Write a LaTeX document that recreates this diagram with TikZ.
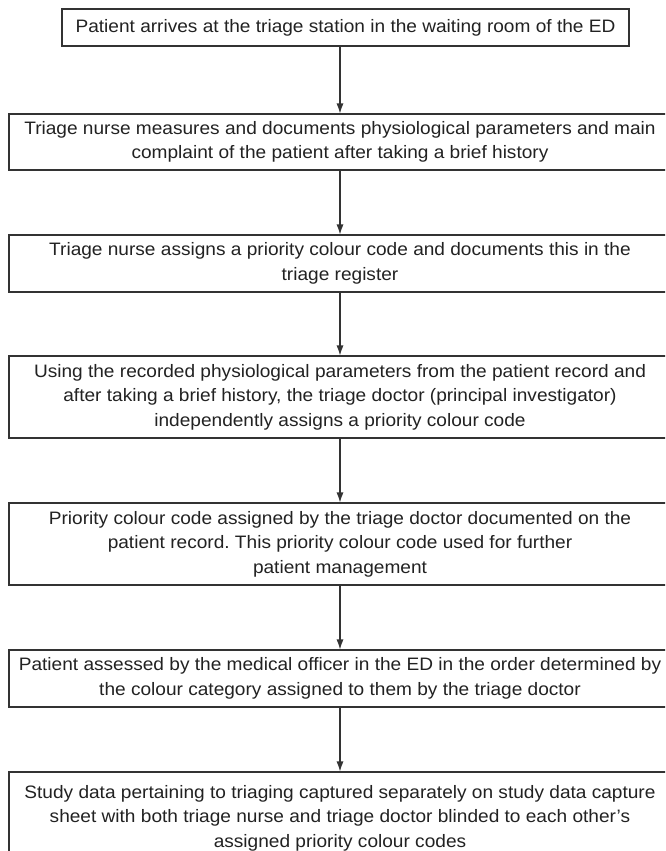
\documentclass[tikz,border=0pt]{standalone}
\usepackage{fontspec}
\setmainfont{Liberation Sans}[FakeStretch=1.06]
\usetikzlibrary{arrows.meta}
\definecolor{linec}{HTML}{333333}
\definecolor{textc}{HTML}{222222}
\frenchspacing
\begin{document}
\begin{tikzpicture}[x=1pt,y=-1pt,
  box/.style={draw=linec,line width=1.1pt,fill=white,align=center,inner sep=0pt,
    text=textc,font=\fontsize{18}{24.5}\selectfont},
  arr/.style={draw=linec,line width=1.1pt,-{Latex[length=10pt,width=7pt]}}]
\clip (0,0) rectangle (665,851);
\fill[white] (0,0) rectangle (665,851);
\coordinate (ax) at (340,0);
\node[box,minimum width=567pt,minimum height=37pt] (b1) at (345.5,27.5)
  {Patient arrives at the triage station in the waiting room of the ED};
\node[box,minimum width=662pt,minimum height=56pt] (b2) at (340,142)
  {Triage nurse measures and documents physiological parameters and main\\complaint of the patient after taking a brief history};
\node[box,minimum width=662pt,minimum height=57pt] (b3) at (340,263.5)
  {Triage nurse assigns a priority colour code and documents this in the\\triage register};
\node[box,minimum width=662pt,minimum height=82pt] (b4) at (340,397)
  {Using the recorded physiological parameters from the patient record and\\after taking a brief history, the triage doctor (principal investigator)\\independently assigns a priority colour code};
\node[box,minimum width=662pt,minimum height=82pt] (b5) at (340,544)
  {Priority colour code assigned by the triage doctor documented on the\\patient record. This priority colour code used for further\\patient management};
\node[box,minimum width=662pt,minimum height=57pt] (b6) at (340,678.5)
  {Patient assessed by the medical officer in the ED in the order determined by\\the colour category assigned to them by the triage doctor};
\node[box,minimum width=662pt,minimum height=92pt] (b7) at (340,818)
  {Study data pertaining to triaging captured separately on study data capture\\sheet with both triage nurse and triage doctor blinded to each other's\\assigned priority colour codes};
\draw[arr] (b1.south -| ax) -- (b2.north -| ax);
\draw[arr] (b2.south -| ax) -- (b3.north -| ax);
\draw[arr] (b3.south -| ax) -- (b4.north -| ax);
\draw[arr] (b4.south -| ax) -- (b5.north -| ax);
\draw[arr] (b5.south -| ax) -- (b6.north -| ax);
\draw[arr] (b6.south -| ax) -- (b7.north -| ax);
\end{tikzpicture}
\end{document}
